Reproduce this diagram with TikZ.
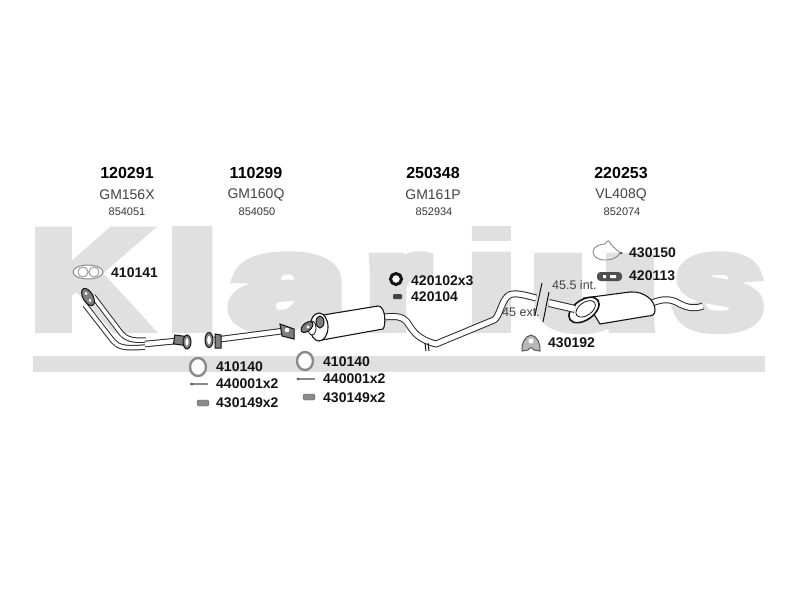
\documentclass[tikz,border=0pt]{standalone}
\usepackage{graphicx}
\usepackage{fontspec}
\setmainfont{Liberation Sans}
\newfontfamily\logofont[FakeBold=9,BoldFont={Liberation Sans Bold},UprightFont={Liberation Sans Bold}]{Liberation Sans}
\newcommand{\logoletter}[4]{\rlap{\kern#1pt\scalebox{#2}[#3]{#4}}}
\definecolor{logogray}{HTML}{E0E0E0}
\definecolor{ink}{HTML}{141414}
\definecolor{mid}{HTML}{8A8A8A}
\tikzset{
 partno/.style={anchor=west,inner sep=0pt,font=\bfseries\fontsize{14}{14}\selectfont,text=ink},
 head/.style={inner sep=0pt,font=\bfseries\fontsize{16}{16}\selectfont,text=black},
 ref/.style={inner sep=0pt,font=\fontsize{14}{14}\selectfont,text=ink!80},
 code/.style={inner sep=0pt,font=\fontsize{11}{11}\selectfont,text=ink!85},
 dim/.style={anchor=west,inner sep=0pt,font=\fontsize{12.5}{12.5}\selectfont,text=ink!80},
 tube/.style={draw=ink!90,line width=1pt,double=white,double distance=#1,line join=round},
 tube/.default=3.5pt,
 body/.style={draw=ink,line width=1.1pt,fill=white},
 flange/.style={draw=ink,line width=1pt,fill=ink!55},
 ringpart/.style={draw=mid,line width=2.4pt,fill=white},
 blob/.style={fill=mid,draw=ink!70,line width=.4pt}
}
\begin{document}
\begin{tikzpicture}[x=1pt,y=-1pt]
\useasboundingbox (0,0) rectangle (800,600);
\fill[white] (0,0) rectangle (800,600);
% logo
\node[anchor=base west,inner sep=0pt,text=logogray,font=\logofont\fontsize{118}{118}\selectfont] (logo) at (0,327) {%
\logoletter{31}{1.33}{1.16}{K}\logoletter{167}{1.5}{1.11}{l}\logoletter{230}{1.76}{1.1}{a}\logoletter{365}{1.37}{1.1}{r}\logoletter{467}{1.45}{1.11}{i}\logoletter{530}{1.78}{1.1}{u}\logoletter{674}{1.35}{1.1}{s}};
\fill[white] (462,241) rectangle (522,251);
\fill[logogray] (33,356) rectangle (765,372);
% headers
\node[head] (h1) at (127,173) {120291};
\node[ref] (r1) at (127,195) {GM156X};
\node[code] (c1) at (127,212) {854051};
\node[head] (h2) at (256,173) {110299};
\node[ref] (r2) at (256,195) {GM160Q};
\node[code] (c2) at (257,212) {854050};
\node[head] (h3) at (433,173) {250348};
\node[ref] (r3) at (433,195) {GM161P};
\node[code] (c3) at (434,212) {852934};
\node[head] (h4) at (621,173) {220253};
\node[ref] (r4) at (621,195) {VL408Q};
\node[code] (c4) at (622,212) {852074};
% part numbers
\node[partno] at (111,273) {410141};
\node[partno] at (216,367) {410140};
\node[partno] at (216,384) {440001x2};
\node[partno] at (216,403) {430149x2};
\node[partno] at (323,362) {410140};
\node[partno] at (323,379) {440001x2};
\node[partno] at (323,398) {430149x2};
\node[partno] at (411,281) {420102x3};
\node[partno] at (411,297) {420104};
\node[partno] at (629,253) {430150};
\node[partno] at (629,276) {420113};
\node[partno] at (548,343) {430192};
\node[dim] at (552,285) {45.5 int.};
\node[dim] at (502,312) {45 ext.};
% front pipe
\draw[tube] (85,305) -- (113,341) .. controls (118,347) and (125,349) .. (145,347);
\draw[tube] (93,296) -- (121,333) .. controls (126,339) and (133,341) .. (146,340);
\draw[tube=4.5pt] (145,344) -- (176,341);
\draw[flange,rotate around={30:(88,297)}] (88,297) ellipse [x radius=5,y radius=9.5];
\fill[white,rotate around={30:(88,297)}] (88,293) circle (1.6) (88,301) circle (1.6);
\draw[flange,rotate around={-8:(182,341)}] (174,336) rectangle (186,345);
\draw[flange] (187,342) ellipse [x radius=4,y radius=7];
\fill[white] (187,342) ellipse [x radius=1.6,y radius=4];
% second pipe
\draw[tube=4.5pt] (214,340) -- (283,331);
\draw[flange] (209,340) ellipse [x radius=4,y radius=7.5];
\fill[white] (209,340) ellipse [x radius=1.8,y radius=4.5];
\draw[flange] (215,334) -- (221,335) -- (221,348) -- (215,348) -- cycle;
\draw[flange] (280,324) -- (294,329) -- (294,339) -- (282,336) -- cycle;
\fill[white] (287,330) circle (2.3);
% first muffler
\draw[tube=5pt] (384,317) .. controls (395,316) and (402,316) .. (407,322) .. controls (413,331) and (417,339) .. (436,344) -- (494,320) .. controls (499,317) and (501,304) .. (506,298) .. controls (510,292) and (518,293) .. (536,298);
\draw[draw=ink,line width=1pt] (425,343) -- (426,351) (428,343) -- (429,351);
\draw[body] (317,316) -- (378,306) .. controls (386,306) and (386,326) .. (383,329) -- (322,340) -- cycle;
\draw[body] (319,327) ellipse [x radius=9,y radius=14];
\draw[flange] (320,322) ellipse [x radius=4,y radius=6];
\draw[ink,fill=white,line width=.8pt] (312,328) ellipse [x radius=4,y radius=7];
\draw[flange,rotate around={40:(307,327)}] (307,327) ellipse [x radius=7,y radius=4];
\fill[white] (308,327) circle (1.6);
% rear muffler
\draw[tube=5pt] (652,303) .. controls (662,299) and (670,298) .. (680,304) .. controls (688,308) and (695,309) .. (703,306);
\draw[body] (584,298) -- (630,292) .. controls (644,291) and (655,300) .. (655,310) .. controls (655,315) and (652,316) .. (648,316) -- (600,324) -- cycle;
\draw[body,line width=1.6pt,rotate around={35:(584,310)}] (584,310) ellipse [x radius=17,y radius=10];
\draw[ink,fill=white,line width=.8pt,rotate around={35:(584,310)}] (586,310) ellipse [x radius=11,y radius=6.5];
\draw[tube=6pt] (549,303) -- (575,309);
\draw[draw=ink,line width=1pt] (542,283) -- (535,315);
\draw[draw=ink,line width=1pt] (549,292) -- (543,322);
% small parts
\draw[mid,line width=1pt,fill=white] (88,272) ellipse [x radius=15,y radius=7];
\draw[mid,line width=.8pt] (83,272) circle (5) (94,272) circle (5);
\draw[ringpart] (198,367) ellipse [x radius=8,y radius=9];
\draw[ringpart] (305,361) ellipse [x radius=8,y radius=9];
\draw[mid,line width=1.4pt] (190,384) -- (208,384);
\fill[ink!70] (192,384) circle (1.5);
\draw[mid,line width=1.4pt] (297,379) -- (315,379);
\fill[ink!70] (298,379) circle (1.5);
\draw[blob,rounded corners=2pt] (197,400) rectangle (209,406);
\draw[blob,rounded corners=2pt] (303,394) rectangle (315,400);
\draw[ink,line width=3pt,fill=white] (396,279) circle (5.5);
\fill[ink!80,rounded corners=1pt] (393,294) rectangle (402,299);
\draw[mid,line width=.9pt] (620,253) .. controls (617,258) and (612,260) .. (605,260) .. controls (597,260) and (593,256) .. (593,252) .. controls (593,246) and (601,244) .. (605,244) .. controls (607,240) and (610,240) .. (610,243) .. controls (612,246) and (616,249) .. (620,253);
\fill[ink!70] (621,253) circle (1.5);
\fill[ink!75,rounded corners=3.5pt] (597,272) rectangle (622,281);
\fill[white] (603,275) rectangle (606,278) (610,275) rectangle (616,278);
\draw[draw=ink!70,line width=1pt,fill=mid!60] (522,351) .. controls (521,344) and (525,336) .. (531,335) .. controls (537,336) and (541,344) .. (540,351) -- (534,350) .. controls (532,347) and (530,347) .. (528,350) -- cycle;
\fill[white] (531,341) circle (2.5);
\end{tikzpicture}
\end{document}
